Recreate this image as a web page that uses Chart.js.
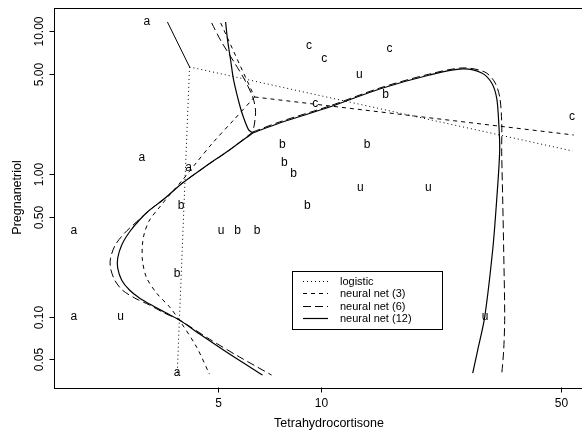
<!DOCTYPE html>
<html>
<head>
<meta charset="utf-8">
<script src="https://cdn.jsdelivr.net/npm/chart.js@4.4.0/dist/chart.umd.min.js"></script>
<style>
html, body { margin: 0; padding: 0; background: #fff; overflow: hidden; }
</style>
</head>
<body>
<canvas id="chart" width="600" height="431"></canvas>
<script>
// Cushings data (Tetrahydrocortisone, Pregnanetriol, Type)
const thc  = [3.1, 3.0, 1.9, 3.8, 4.1, 1.9, 8.3, 3.8, 3.9, 7.8, 9.1, 15.4, 7.7, 6.5, 5.7, 13.6,
              10.2, 9.2, 9.6, 53.8, 15.8, 5.1, 12.9, 13.0, 2.6, 30.0, 20.5];
const preg = [11.7, 1.3, 0.1, 0.04, 1.1, 0.4, 1.0, 0.2, 0.6, 1.2, 0.6, 3.6, 1.6, 0.4, 0.4, 1.6,
              6.4, 7.9, 3.1, 2.5, 7.6, 0.4, 5.0, 0.8, 0.1, 0.1, 0.8];
const types = ['a','a','a','a','a','a','b','b','b','b','b','b','b','b','b','b',
               'c','c','c','c','c','u','u','u','u','u','u'];

const xTicks = [5, 10, 50];
const xTickLabels = ['5', '10', '50'];
const yTicks = [0.05, 0.1, 0.5, 1, 5, 10];
const yTickLabels = ['0.05', '0.10', '0.50', '1.00', '5.00', '10.00'];

// decision boundaries
const logisticAB_x = [4.13, 3.80];
const logisticAB_y = [5.64, 0.038];
const logisticBC_x = [4.13, 54.0];
const logisticBC_y = [5.64, 1.45];
const logisticAC_x = [4.13, 3.56];
const logisticAC_y = [5.64, 11.66];

const nn3AC_x = [5.09, 5.70, 6.39];
const nn3AC_y = [11.47, 6.31, 3.47];
const nn3BC_x = [6.39, 54.4];
const nn3BC_y = [3.47, 1.878];
const nn3AB_x = [6.39, 5.55, 4.82, 4.27, 3.94, 3.61, 3.38, 3.16, 3.05, 3.01, 3.01, 3.09, 3.31, 3.61, 3.89, 4.33, 4.72];
const nn3AB_y = [3.47, 2.39, 1.65, 1.157, 0.908, 0.712, 0.587, 0.476, 0.385, 0.318, 0.249, 0.189, 0.146, 0.117, 0.0915, 0.0611, 0.0395];

const nn6AC_x = [4.79, 5.12, 5.59, 5.98, 6.31, 6.43, 6.39, 6.31];
const nn6AC_y = [11.47, 8.44, 6.01, 4.57, 3.47, 2.81, 2.28, 1.97];
const nn6BC_x = [6.31, 7.56, 10.57, 14.79, 20.69, 25.82, 29.93, 32.00, 33.10, 33.55, 33.55, 33.78, 34.00, 34.23, 34.00, 33.55];
const nn6BC_y = [1.97, 2.32, 3.00, 4.01, 5.03, 5.55, 5.20, 4.42, 3.47, 2.32, 1.43, 0.657, 0.293, 0.0992, 0.0582, 0.0389];
const nn6AB_x = [6.31, 5.40, 4.57, 3.94, 3.45, 3.16, 2.89, 2.67, 2.51, 2.43, 2.43, 2.50, 2.63, 2.86, 3.16, 3.49, 3.86, 4.72, 5.78, 7.16];
const nn6AB_y = [1.97, 1.474, 1.120, 0.865, 0.657, 0.559, 0.460, 0.385, 0.318, 0.257, 0.219, 0.180, 0.1535, 0.1348, 0.1204, 0.1058, 0.0945, 0.0695, 0.0520, 0.0389];

const nn12AC_x = [5.26, 5.33, 5.44, 5.55, 5.78, 5.94, 6.14, 6.31];
const nn12AC_y = [11.66, 8.72, 6.31, 4.57, 3.05, 2.47, 2.04, 1.94];
const nn12BC_x = [6.31, 7.56, 10.57, 14.79, 20.69, 25.82, 29.34, 31.37, 32.44, 32.88, 33.10, 32.44, 31.58, 29.93, 28.56, 27.62];
const nn12BC_y = [1.94, 2.28, 2.95, 3.95, 4.95, 5.46, 5.11, 4.35, 3.41, 2.32, 1.47, 0.657, 0.293, 0.0992, 0.0582, 0.0401];
const nn12AB_x = [6.31, 5.40, 4.57, 3.94, 3.45, 3.16, 2.95, 2.76, 2.62, 2.55, 2.55, 2.62, 2.76, 2.95, 3.16, 3.49, 3.86, 4.42, 5.40, 6.74];
const nn12AB_y = [1.94, 1.474, 1.120, 0.865, 0.657, 0.559, 0.476, 0.392, 0.318, 0.257, 0.219, 0.180, 0.1535, 0.1348, 0.1224, 0.1075, 0.0945, 0.0754, 0.0546, 0.0389];

const FONT = '"Liberation Sans", Arial, sans-serif';

function zip(xs, ys) {
    return xs.map((v, i) => ({ x: v, y: ys[i] }));
}

function boundary(label, xs, ys, dash, width, tension) {
    return {
        label: label,
        data: zip(xs, ys),
        showLine: true,
        borderColor: '#000',
        borderWidth: width || 1,
        borderDash: dash,
        pointRadius: 0,
        fill: false,
        tension: tension || 0
    };
}

const DOT = [1, 3];
const SHORT = [4, 4];
const LONG = [8, 4];
const SOLID = [];

const datasets = [];
['a', 'b', 'c', 'u'].forEach(t => {
    const xs = [], ys = [];
    types.forEach((ty, i) => { if (ty === t) { xs.push(thc[i]); ys.push(preg[i]); } });
    datasets.push({
        label: 'type ' + t,
        letter: t,
        data: zip(xs, ys),
        pointRadius: 0,
        showLine: false
    });
});

datasets.push(boundary('logistic', logisticAB_x, logisticAB_y, DOT));
datasets.push(boundary('', logisticBC_x, logisticBC_y, DOT));
datasets.push(boundary('', logisticAC_x, logisticAC_y, SOLID));
datasets.push(boundary('neural net (3)', nn3AB_x, nn3AB_y, SHORT, 1, 0.3));
datasets.push(boundary('', nn3AC_x, nn3AC_y, SHORT));
datasets.push(boundary('', nn3BC_x, nn3BC_y, SHORT));
datasets.push(boundary('neural net (6)', nn6AB_x, nn6AB_y, LONG, 1, 0.3));
datasets.push(boundary('', nn6AC_x, nn6AC_y, LONG, 1, 0.3));
datasets.push(boundary('', nn6BC_x, nn6BC_y, LONG, 1, 0.3));
datasets.push(boundary('neural net (12)', nn12AB_x, nn12AB_y, SOLID, 1.2, 0.3));
datasets.push(boundary('', nn12AC_x, nn12AC_y, SOLID, 1.2, 0.3));
datasets.push(boundary('', nn12BC_x, nn12BC_y, SOLID, 1.2, 0.3));

// class letters, placed at the points the scatter layout computed
const letters = {
    id: 'letters',
    afterDatasetsDraw(chart) {
        const ctx = chart.ctx;
        ctx.save();
        ctx.fillStyle = '#000';
        ctx.font = '12px ' + FONT;
        ctx.textAlign = 'center';
        ctx.textBaseline = 'alphabetic';
        chart.data.datasets.forEach((d, i) => {
            if (!d.letter) return;
            chart.getDatasetMeta(i).data.forEach(pt => {
                ctx.fillText(d.letter, pt.x, pt.y + 3.2);
            });
        });
        ctx.restore();
    }
};

// R-style box, ticks and axis titles drawn from the chart's scales
const rAxes = {
    id: 'rAxes',
    afterDraw(chart) {
        const { ctx, chartArea: a, scales: { x, y } } = chart;
        ctx.save();
        ctx.strokeStyle = '#000';
        ctx.lineWidth = 1;
        ctx.setLineDash([]);
        ctx.strokeRect(Math.round(a.left) + 0.5, Math.round(a.top) + 0.5,
                       Math.round(a.right - a.left), Math.round(a.bottom - a.top));
        ctx.fillStyle = '#000';
        ctx.font = '12px ' + FONT;
        ctx.textAlign = 'center';
        ctx.textBaseline = 'middle';
        const bottom = Math.round(a.bottom) + 0.5;
        const left = Math.round(a.left) + 0.5;
        xTicks.forEach((v, i) => {
            const px = Math.round(x.getPixelForValue(v)) + 0.5;
            ctx.beginPath(); ctx.moveTo(px, bottom); ctx.lineTo(px, bottom + 5); ctx.stroke();
            ctx.fillText(xTickLabels[i], px, bottom + 16);
        });
        yTicks.forEach((v, i) => {
            const py = Math.round(y.getPixelForValue(v)) + 0.5;
            ctx.beginPath(); ctx.moveTo(left, py); ctx.lineTo(left - 5, py); ctx.stroke();
            ctx.save();
            ctx.translate(left - 15, py);
            ctx.rotate(-Math.PI / 2);
            ctx.fillText(yTickLabels[i], 0, 0);
            ctx.restore();
        });
        ctx.font = '12.5px ' + FONT;
        ctx.fillText('Tetrahydrocortisone', 329, bottom + 36);
        ctx.save();
        ctx.translate(18, (a.top + a.bottom) / 2);
        ctx.rotate(-Math.PI / 2);
        ctx.fillText('Pregnanetriol', 0, 0);
        ctx.restore();
        ctx.restore();
    }
};

// legend box inside the plot, as in the R figure
const rLegend = {
    id: 'rLegend',
    afterDraw(chart) {
        const ctx = chart.ctx;
        const items = chart.data.datasets.filter(d => d.showLine && d.label);
        const bx = 292.5, by = 271.5, bw = 150, bh = 58;
        ctx.save();
        ctx.fillStyle = '#fff';
        ctx.fillRect(bx, by, bw, bh);
        ctx.strokeStyle = '#000';
        ctx.lineWidth = 1;
        ctx.setLineDash([]);
        ctx.strokeRect(bx, by, bw, bh);
        ctx.font = '11px ' + FONT;
        ctx.textAlign = 'left';
        ctx.textBaseline = 'middle';
        ctx.fillStyle = '#000';
        items.forEach((d, i) => {
            const ry = Math.round(281 + i * 12.4) + 0.5;
            ctx.setLineDash(d.borderDash);
            ctx.lineWidth = d.borderWidth;
            ctx.beginPath(); ctx.moveTo(303, ry); ctx.lineTo(328, ry); ctx.stroke();
            ctx.fillText(d.label, 340, ry);
        });
        ctx.restore();
    }
};

new Chart(document.getElementById('chart'), {
    type: 'scatter',
    data: { datasets: datasets },
    options: {
        responsive: false,
        animation: false,
        devicePixelRatio: 1,
        events: [],
        layout: { padding: { left: 54, top: 7.7, right: 8, bottom: 43.7 } },
        plugins: { legend: { display: false }, tooltip: { enabled: false } },
        scales: {
            x: { type: 'logarithmic', min: 1.663, max: 61.5, display: false },
            y: { type: 'logarithmic', min: 0.0319, max: 14.68, display: false }
        }
    },
    plugins: [letters, rAxes, rLegend]
});
</script>
</body>
</html>
